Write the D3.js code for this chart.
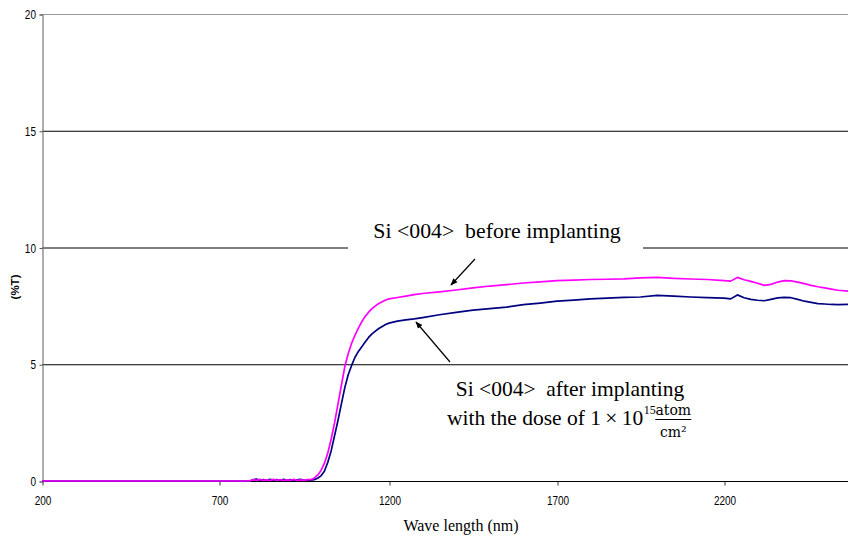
<!DOCTYPE html>
<html><head><meta charset="utf-8">
<script src="https://cdn.jsdelivr.net/npm/d3@7"></script>
<style>
body{margin:0;background:#fff}
svg{display:block}
</style>
</head><body>
<svg id="chart" width="848" height="540"></svg>
<script>
// Transmission spectra of Si <004>, wavelength in nm, transmission in %T
const wavelengths = [
  200, 400, 600, 790, 800, 810, 820, 830, 840, 850, 860, 870, 880, 890, 900, 910, 920, 930, 940, 950, 960, 970,
  980, 990, 1000, 1010, 1020, 1030, 1040, 1050, 1060, 1070, 1080, 1090, 1100, 1110, 1120, 1130, 1140, 1150,
  1160, 1170, 1180, 1190, 1200, 1225, 1250, 1275, 1300, 1350, 1400, 1450, 1500, 1550, 1600, 1650, 1700,
  1750, 1800, 1850, 1900, 1950, 2000, 2050, 2100, 2150, 2200, 2220, 2240, 2260, 2280, 2300, 2320, 2340,
  2360, 2380, 2400, 2420, 2440, 2460, 2480, 2500, 2520, 2540, 2570
];
const beforeImplant = [
  0, 0, 0, 0, 0.06, 0.02, 0.07, 0.03, 0.05, 0.02, 0.07, 0.03, 0.06, 0.02, 0.05, 0.03, 0.07, 0.02, 0.05, 0.03, 0.06, 0.06,
  0.12, 0.25, 0.45, 0.75, 1.2, 1.8, 2.5, 3.3, 4.1, 4.9, 5.45, 5.9, 6.25, 6.55, 6.82, 7.05, 7.23, 7.38,
  7.5, 7.6, 7.68, 7.75, 7.8, 7.86, 7.92, 7.98, 8.03, 8.1, 8.18, 8.27, 8.35, 8.41, 8.48, 8.53, 8.58,
  8.6, 8.63, 8.64, 8.66, 8.7, 8.72, 8.68, 8.65, 8.63, 8.58, 8.56, 8.72, 8.62, 8.55, 8.47, 8.38, 8.42,
  8.52, 8.58, 8.57, 8.52, 8.45, 8.38, 8.32, 8.27, 8.22, 8.17, 8.13
];
const afterImplant = [
  0, 0, 0, 0, 0.05, 0.08, 0.03, 0.06, 0.02, 0.07, 0.04, 0.06, 0.02, 0.07, 0.03, 0.06, 0.02, 0.05, 0.07, 0.03, 0.05, 0.04,
  0.06, 0.12, 0.22, 0.42, 0.8, 1.3, 1.95, 2.6, 3.3, 4.0, 4.55, 4.95, 5.3, 5.55, 5.75, 5.95, 6.15, 6.3,
  6.42, 6.53, 6.62, 6.7, 6.76, 6.85, 6.9, 6.94, 7.0, 7.12, 7.22, 7.32, 7.38, 7.45, 7.55, 7.62, 7.7,
  7.75, 7.8, 7.83, 7.86, 7.88, 7.95, 7.92, 7.88, 7.85, 7.83, 7.8, 7.97, 7.85, 7.78, 7.74, 7.72, 7.78,
  7.84, 7.86, 7.85, 7.78, 7.7, 7.65, 7.6, 7.58, 7.56, 7.55, 7.56
];
const xTickValues = [200, 700, 1200, 1700, 2200];
const yTickValues = [0, 5, 10, 15, 20];

const svg = d3.select("#chart");

// Category-style wavelength axis: label positions are slightly uneven
const x = d3.scaleLinear()
  .domain([200, 700, 1200, 1700, 2200, 2570])
  .range([42, 219, 389, 557, 724, 848]);
const y = d3.scaleLinear().domain([0, 20]).range([481, 14]);

// Horizontal gridlines
svg.append("g").selectAll("line")
  .data(yTickValues.filter(v => v > 0))
  .join("line")
  .attr("x1", 42).attr("x2", 848)
  .attr("y1", d => y(d) + 0.5).attr("y2", d => y(d) + 0.5)
  .attr("stroke", d => d === 20 ? "#9a9a9a" : "#000")
  .attr("stroke-width", 1);

// Axes (tick labels drawn in a condensed sans face)
const tickFont = "'Liberation Sans', Arial, sans-serif";
const yAxis = svg.append("g")
  .attr("transform", "translate(42.5,0.5)")
  .call(d3.axisLeft(y).tickValues(yTickValues).tickSize(3).tickPadding(3));
yAxis.select(".domain").attr("stroke", "#7a7a7a").attr("stroke-width", 1.2);
yAxis.selectAll(".tick line").attr("stroke", "#555");
yAxis.selectAll("text")
  .attr("font-family", tickFont).attr("font-size", 12.5).attr("fill", "#000")
  .attr("x", -8.2).attr("transform", "scale(0.8,1)");

const xAxis = svg.append("g")
  .attr("transform", "translate(0.5,481.5)")
  .call(d3.axisBottom(x).tickValues(xTickValues).tickSize(4).tickPadding(11).tickFormat(d3.format("d")));
xAxis.select(".domain").attr("stroke", "#000").attr("stroke-width", 1.2).attr("d", "M42,0H848");
xAxis.selectAll(".tick line").attr("stroke", "#333");
xAxis.selectAll("text")
  .attr("font-family", tickFont).attr("font-size", 12.5).attr("fill", "#000")
  .attr("transform", "scale(0.8,1)");

// Axis titles
svg.append("text")
  .attr("x", 461).attr("y", 531)
  .attr("text-anchor", "middle")
  .attr("font-family", "'Liberation Serif', 'Times New Roman', serif")
  .attr("font-size", 16)
  .text("Wave length (nm)");
svg.append("text")
  .attr("transform", "translate(19,287) rotate(-90)")
  .attr("text-anchor", "middle")
  .attr("font-family", "'Liberation Sans', Arial, sans-serif")
  .attr("font-weight", "bold")
  .attr("font-size", 11.5)
  .text("(%T)");

// Spectra
const line = (vals) => d3.line()
  .x((d, i) => x(wavelengths[i]))
  .y((d, i) => y(vals[i]))(vals);
svg.append("path").attr("d", line(afterImplant))
  .attr("fill", "none").attr("stroke", "#000080").attr("stroke-width", 1.7).attr("stroke-linejoin", "round");
svg.append("path").attr("d", line(beforeImplant))
  .attr("fill", "none").attr("stroke", "#ff00ff").attr("stroke-width", 1.7).attr("stroke-linejoin", "round");

// Arrow marker
svg.append("defs").append("marker")
  .attr("id", "arrowhead").attr("viewBox", "0 0 10 10")
  .attr("refX", 9).attr("refY", 5)
  .attr("markerWidth", 6).attr("markerHeight", 6)
  .attr("orient", "auto")
  .append("path").attr("d", "M0,1L10,5L0,9Z").attr("fill", "#000");

const serif = "'Liberation Serif', 'Times New Roman', serif";

// Label for the unimplanted sample, on a white box over the gridline
svg.append("rect").attr("x", 348).attr("y", 218).attr("width", 295).attr("height", 34).attr("fill", "#fff");
svg.append("text")
  .attr("x", 497).attr("y", 238)
  .attr("text-anchor", "middle")
  .attr("font-family", serif).attr("font-size", 21.8)
  .attr("xml:space", "preserve")
  .text("Si <004>  before implanting");
svg.append("line")
  .attr("x1", 475).attr("y1", 259).attr("x2", 451).attr("y2", 285)
  .attr("stroke", "#000").attr("stroke-width", 1.2).attr("marker-end", "url(#arrowhead)");

// Label for the implanted sample
svg.append("text")
  .attr("x", 570).attr("y", 396)
  .attr("text-anchor", "middle")
  .attr("font-family", serif).attr("font-size", 21.5)
  .attr("xml:space", "preserve")
  .text("Si <004>  after implanting");
const doseText = svg.append("text")
  .attr("x", 447).attr("y", 425)
  .attr("font-family", serif).attr("font-size", 21.5)
  .text("with the dose of 1\u2009\u00d7\u200910");
const dw = doseText.node().getComputedTextLength();
svg.append("text")
  .attr("x", 447 + dw + 0.5).attr("y", 414)
  .attr("font-family", serif).attr("font-size", 12)
  .text("15");
const fx = 447 + dw + 12;
svg.append("text")
  .attr("x", fx + 18).attr("y", 415)
  .attr("text-anchor", "middle")
  .attr("font-family", "'DejaVu Serif', 'Liberation Serif', serif").attr("font-size", 14)
  .text("atom");
svg.append("line")
  .attr("x1", fx).attr("x2", fx + 36).attr("y1", 419.5).attr("y2", 419.5)
  .attr("stroke", "#000").attr("stroke-width", 1);
svg.append("text")
  .attr("x", fx + 18).attr("y", 437)
  .attr("text-anchor", "middle")
  .attr("font-family", "'DejaVu Serif', 'Liberation Serif', serif").attr("font-size", 14)
  .text("cm\u00b2");
svg.append("line")
  .attr("x1", 450).attr("y1", 362).attr("x2", 416).attr("y2", 322)
  .attr("stroke", "#000").attr("stroke-width", 1.2).attr("marker-end", "url(#arrowhead)");
</script>
</body></html>
